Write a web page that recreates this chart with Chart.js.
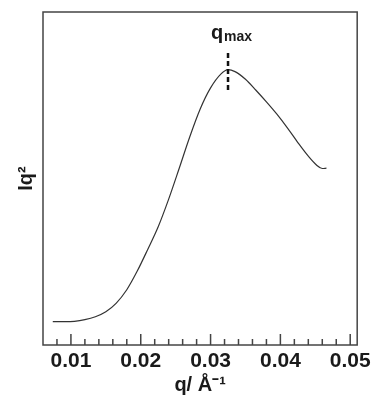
<!DOCTYPE html>
<html>
<head>
<meta charset="utf-8">
<style>
  html, body { margin: 0; padding: 0; background: #fff; }
  .chart-view { width: 375px; height: 399px; }
</style>
</head>
<body>
<div class="chart-view">
  <canvas id="myChart"></canvas>
</div>

<script src="https://cdn.jsdelivr.net/npm/chart.js@4"></script>
<script>

// q in 1/Angstrom, intensity in arbitrary units
const qValues = [0.0074, 0.0090, 0.0105, 0.0120, 0.0135, 0.0150, 0.0165, 0.0180, 0.0195, 0.0210,
                 0.0225, 0.0240, 0.0255, 0.0270, 0.0285, 0.0300, 0.0315, 0.0325, 0.0335, 0.0350,
                 0.0365, 0.0380, 0.0395, 0.0410, 0.0425, 0.0440, 0.0452, 0.0460, 0.0466];
const iq2Values = [7.0, 7.0, 7.1, 7.6, 8.5, 10.0, 12.6, 16.6, 22.2, 28.7,
                   35.5, 43.8, 53.0, 62.4, 70.8, 77.2, 81.4, 82.7, 82.1, 79.8,
                   76.5, 73.0, 69.3, 65.2, 60.8, 56.7, 54.0, 53.0, 53.1];

const xTicks = [0.01, 0.02, 0.03, 0.04, 0.05];
const xMinorTicks = [0.008, 0.012, 0.014, 0.016, 0.018, 0.022, 0.024, 0.026, 0.028,
                     0.032, 0.034, 0.036, 0.038, 0.042, 0.044, 0.046, 0.048];

// dashed marker at the peak
const qMax = 0.0325;
const markerFrom = 75.7;
const markerTo = 87.7;

const points = qValues.map((q, i) => ({ x: q, y: iq2Values[i] }));

const frameColor = '#444';
const fontFamily = '"Liberation Sans", Arial, sans-serif';

// frame, inward ticks and the q_max marker
const framePlugin = {
  id: 'framePlugin',
  afterDraw(chart) {
    const { ctx, chartArea: a, scales: { x, y } } = chart;
    ctx.save();
    ctx.strokeStyle = frameColor;
    ctx.lineWidth = 1.5;
    ctx.strokeRect(a.left, a.top, a.right - a.left, a.bottom - a.top);

    ctx.beginPath();
    xTicks.forEach(v => {
      const px = x.getPixelForValue(v);
      ctx.moveTo(px, a.bottom);
      ctx.lineTo(px, a.bottom - 11);
    });
    xMinorTicks.forEach(v => {
      const px = x.getPixelForValue(v);
      ctx.moveTo(px, a.bottom);
      ctx.lineTo(px, a.bottom - 6);
    });
    ctx.stroke();

    // dashed line
    const mx = x.getPixelForValue(qMax);
    ctx.strokeStyle = '#111';
    ctx.lineWidth = 2.5;
    ctx.setLineDash([5, 3]);
    ctx.beginPath();
    ctx.moveTo(mx, y.getPixelForValue(markerTo));
    ctx.lineTo(mx, y.getPixelForValue(markerFrom));
    ctx.stroke();
    ctx.setLineDash([]);

    // label
    ctx.fillStyle = '#1a1a1a';
    ctx.textBaseline = 'alphabetic';
    ctx.font = 'bold 20px ' + fontFamily;
    const qW = ctx.measureText('q').width;
    ctx.font = 'bold 14px ' + fontFamily;
    const subW = ctx.measureText('max').width;
    const lx = mx + 3 - (qW + subW) / 2;
    const ly = y.getPixelForValue(markerTo) - 14;
    ctx.font = 'bold 20px ' + fontFamily;
    ctx.fillText('q', lx, ly);
    ctx.font = 'bold 14px ' + fontFamily;
    ctx.fillText('max', lx + qW + 1, ly + 2);
    ctx.restore();
  }
};

const ctx = document.getElementById('myChart');

let chart = new Chart(ctx, {
  type: 'line',
  data: {
    datasets: [{
      data: points,
      borderColor: '#333',
      borderWidth: 1.2,
      pointRadius: 0,
      fill: false,
      cubicInterpolationMode: 'monotone'
    }]
  },
  options: {
    responsive: true,
    maintainAspectRatio: false,
    animation: false,
    layout: { padding: { top: 12, right: 16, left: 0, bottom: 0 } },
    plugins: {
      legend: { display: false },
      tooltip: { enabled: false }
    },
    scales: {
      x: {
        type: 'linear',
        min: 0.006,
        max: 0.051,
        afterBuildTicks: s => { s.ticks = xTicks.map(v => ({ value: v })); },
        afterFit: s => { s.height = 54; },
        grid: { display: false, drawTicks: false },
        border: { display: false },
        ticks: {
          padding: 4,
          maxRotation: 0,
          autoSkip: false,
          color: '#1a1a1a',
          font: { family: fontFamily, size: 21, weight: 'bold' },
          callback: v => v.toFixed(2)
        },
        title: {
          display: true,
          text: 'q/ Å⁻¹',
          color: '#1a1a1a',
          padding: { top: 0, bottom: 2 },
          font: { family: fontFamily, size: 20, weight: 'bold' }
        }
      },
      y: {
        min: 0,
        max: 100,
        afterFit: s => { s.width = 43; },
        grid: { display: false, drawTicks: false },
        border: { display: false },
        ticks: { display: false },
        title: {
          display: true,
          text: 'Iq²',
          color: '#1a1a1a',
          padding: { top: 14, bottom: 0 },
          font: { family: fontFamily, size: 20, weight: 'bold' }
        }
      }
    }
  },
  plugins: [framePlugin]
});

</script>
</body>
</html>
